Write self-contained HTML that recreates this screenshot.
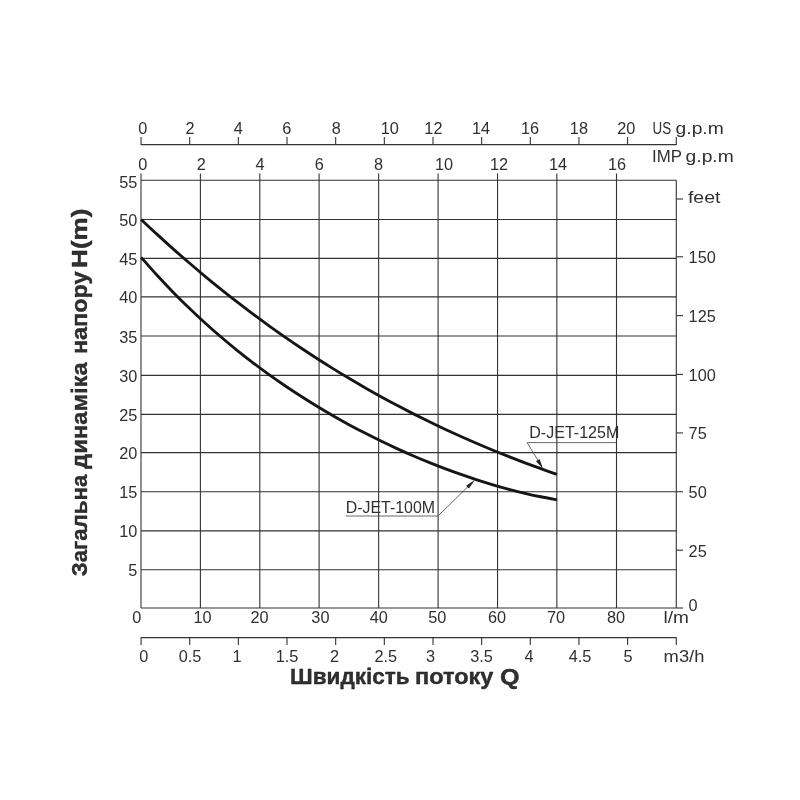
<!DOCTYPE html><html><head><meta charset="utf-8"><title>Pump curve</title><style>html,body{margin:0;padding:0;background:#fff}svg{display:block;will-change:transform}text{font-family:"Liberation Sans",sans-serif;fill:#303030}</style></head><body>
<svg width="800" height="800" viewBox="0 0 800 800">
<rect width="800" height="800" fill="#fff"/>
<g stroke="#333" stroke-width="1.1" fill="none">
<line x1="141.05" y1="180.25" x2="676.30" y2="180.25"/>
<line x1="141.05" y1="219.50" x2="676.30" y2="219.50"/>
<line x1="141.05" y1="258.40" x2="676.30" y2="258.40"/>
<line x1="141.05" y1="296.90" x2="676.30" y2="296.90"/>
<line x1="141.05" y1="336.00" x2="676.30" y2="336.00"/>
<line x1="141.05" y1="375.40" x2="676.30" y2="375.40"/>
<line x1="141.05" y1="414.40" x2="676.30" y2="414.40"/>
<line x1="141.05" y1="452.60" x2="676.30" y2="452.60"/>
<line x1="141.05" y1="491.75" x2="676.30" y2="491.75"/>
<line x1="141.05" y1="530.90" x2="676.30" y2="530.90"/>
<line x1="141.05" y1="569.80" x2="676.30" y2="569.80"/>
<line x1="141.05" y1="608.00" x2="676.30" y2="608.00"/>
<line x1="141.00" y1="173.50" x2="141.00" y2="608.00"/>
<line x1="200.40" y1="173.50" x2="200.40" y2="608.00"/>
<line x1="259.80" y1="173.50" x2="259.80" y2="608.00"/>
<line x1="319.10" y1="173.50" x2="319.10" y2="608.00"/>
<line x1="378.65" y1="173.50" x2="378.65" y2="608.00"/>
<line x1="438.10" y1="173.50" x2="438.10" y2="608.00"/>
<line x1="497.55" y1="173.50" x2="497.55" y2="608.00"/>
<line x1="556.85" y1="173.50" x2="556.85" y2="608.00"/>
<line x1="616.50" y1="173.50" x2="616.50" y2="608.00"/>
<line x1="676.30" y1="180.25" x2="676.30" y2="608.00"/>
<line x1="141.05" y1="144.6" x2="676.30" y2="144.6"/>
<line x1="141.05" y1="137" x2="141.05" y2="145"/>
<line x1="189.71" y1="137" x2="189.71" y2="145"/>
<line x1="238.36" y1="137" x2="238.36" y2="145"/>
<line x1="287.01" y1="137" x2="287.01" y2="145"/>
<line x1="335.67" y1="137" x2="335.67" y2="145"/>
<line x1="384.33" y1="137" x2="384.33" y2="145"/>
<line x1="432.98" y1="137" x2="432.98" y2="145"/>
<line x1="481.64" y1="137" x2="481.64" y2="145"/>
<line x1="530.29" y1="137" x2="530.29" y2="145"/>
<line x1="578.94" y1="137" x2="578.94" y2="145"/>
<line x1="627.60" y1="137" x2="627.60" y2="145"/>
<line x1="676.30" y1="137" x2="676.30" y2="145"/>
<line x1="141.05" y1="637.6" x2="676.30" y2="637.6"/>
<line x1="141.05" y1="637.2" x2="141.05" y2="645"/>
<line x1="189.71" y1="637.2" x2="189.71" y2="645"/>
<line x1="238.36" y1="637.2" x2="238.36" y2="645"/>
<line x1="287.01" y1="637.2" x2="287.01" y2="645"/>
<line x1="335.67" y1="637.2" x2="335.67" y2="645"/>
<line x1="384.33" y1="637.2" x2="384.33" y2="645"/>
<line x1="432.98" y1="637.2" x2="432.98" y2="645"/>
<line x1="481.64" y1="637.2" x2="481.64" y2="645"/>
<line x1="530.29" y1="637.2" x2="530.29" y2="645"/>
<line x1="578.94" y1="637.2" x2="578.94" y2="645"/>
<line x1="627.60" y1="637.2" x2="627.60" y2="645"/>
<line x1="676.30" y1="637.2" x2="676.30" y2="645"/>
<line x1="676.30" y1="199.00" x2="683" y2="199.00"/>
<line x1="676.30" y1="256.80" x2="683" y2="256.80"/>
<line x1="676.30" y1="315.60" x2="683" y2="315.60"/>
<line x1="676.30" y1="374.40" x2="683" y2="374.40"/>
<line x1="676.30" y1="432.90" x2="683" y2="432.90"/>
<line x1="676.30" y1="491.75" x2="683" y2="491.75"/>
<line x1="676.30" y1="550.20" x2="683" y2="550.20"/>
<line x1="676.30" y1="608.00" x2="683" y2="608.00"/>
<g stroke-width="0.8" stroke="#444"><polyline points="345.7,516 438.0,516 470,484.6"/>
<polyline points="616.9,442.6 527.1,442.6 539.2,462.4"/></g>
</g>
<polygon points="475.0,479.8 468.9,488.6 466.1,485.8" fill="#222"/>
<polygon points="543.0,468.7 536.0,461.2 539.6,459.0" fill="#222"/>
<path d="M141.10,219.47 C143.77,221.95 151.76,229.50 157.09,234.39 C162.42,239.28 167.75,244.09 173.08,248.82 C178.42,253.56 183.75,258.21 189.08,262.78 C194.41,267.36 199.74,271.86 205.07,276.28 C210.40,280.70 215.73,285.05 221.06,289.32 C226.39,293.59 231.72,297.79 237.05,301.91 C242.38,306.04 247.72,310.09 253.05,314.07 C258.38,318.05 263.71,321.96 269.04,325.80 C274.37,329.64 279.70,333.41 285.03,337.11 C290.36,340.81 295.69,344.44 301.02,348.01 C306.35,351.57 311.68,355.07 317.02,358.51 C322.35,361.94 327.68,365.31 333.01,368.62 C338.34,371.92 343.67,375.16 349.00,378.34 C354.33,381.52 359.66,384.64 364.99,387.70 C370.32,390.76 375.65,393.75 380.98,396.69 C386.32,399.63 391.65,402.51 396.98,405.33 C402.31,408.15 407.64,410.92 412.97,413.63 C418.30,416.33 423.63,418.99 428.96,421.59 C434.29,424.18 439.62,426.73 444.95,429.22 C450.28,431.71 455.62,434.15 460.95,436.54 C466.28,438.93 471.61,441.26 476.94,443.55 C482.27,445.84 487.60,448.07 492.93,450.26 C498.26,452.45 503.59,454.59 508.92,456.69 C514.25,458.78 519.58,460.83 524.92,462.83 C530.25,464.84 535.58,466.80 540.91,468.71 C546.24,470.63 554.23,473.39 556.90,474.33" fill="none" stroke="#151515" stroke-width="2.85" stroke-linecap="butt"/>
<path d="M141.10,257.35 C143.77,260.34 151.76,269.50 157.09,275.30 C162.42,281.11 167.75,286.72 173.08,292.17 C178.42,297.63 183.75,302.91 189.08,308.04 C194.41,313.17 199.74,318.14 205.07,322.97 C210.40,327.80 215.73,332.48 221.06,337.04 C226.39,341.59 231.72,346.00 237.05,350.29 C242.38,354.58 247.72,358.74 253.05,362.79 C258.38,366.85 263.71,370.77 269.04,374.60 C274.37,378.42 279.70,382.13 285.03,385.75 C290.36,389.37 295.69,392.87 301.02,396.29 C306.35,399.71 311.68,403.03 317.02,406.26 C322.35,409.50 327.68,412.64 333.01,415.70 C338.34,418.76 343.67,421.73 349.00,424.63 C354.33,427.52 359.66,430.33 364.99,433.07 C370.32,435.81 375.65,438.47 380.98,441.06 C386.32,443.64 391.65,446.15 396.98,448.59 C402.31,451.03 407.64,453.40 412.97,455.70 C418.30,457.99 423.63,460.22 428.96,462.37 C434.29,464.53 439.62,466.61 444.95,468.62 C450.28,470.63 455.62,472.58 460.95,474.45 C466.28,476.31 471.61,478.11 476.94,479.84 C482.27,481.56 487.60,483.21 492.93,484.78 C498.26,486.35 503.59,487.85 508.92,489.27 C514.25,490.68 519.58,492.02 524.92,493.27 C530.25,494.52 535.58,495.70 540.91,496.77 C546.24,497.85 554.23,499.25 556.90,499.74" fill="none" stroke="#151515" stroke-width="2.85" stroke-linecap="butt"/>
<text x="137.30" y="187.79" font-size="16.30" text-anchor="end">55</text>
<text x="137.30" y="226.04" font-size="16.30" text-anchor="end">50</text>
<text x="137.30" y="264.94" font-size="16.30" text-anchor="end">45</text>
<text x="137.30" y="303.44" font-size="16.30" text-anchor="end">40</text>
<text x="137.30" y="342.54" font-size="16.30" text-anchor="end">35</text>
<text x="137.30" y="381.94" font-size="16.30" text-anchor="end">30</text>
<text x="137.30" y="420.94" font-size="16.30" text-anchor="end">25</text>
<text x="137.30" y="459.14" font-size="16.30" text-anchor="end">20</text>
<text x="137.30" y="498.29" font-size="16.30" text-anchor="end">15</text>
<text x="137.30" y="537.44" font-size="16.30" text-anchor="end">10</text>
<text x="137.30" y="576.34" font-size="16.30" text-anchor="end">5</text>
<text x="687.90" y="202.70" font-size="16.30" text-anchor="start" textLength="32.6" lengthAdjust="spacingAndGlyphs">feet</text>
<text x="688.60" y="263.24" font-size="16.30" text-anchor="start">150</text>
<text x="688.60" y="322.04" font-size="16.30" text-anchor="start">125</text>
<text x="688.60" y="380.84" font-size="16.30" text-anchor="start">100</text>
<text x="688.60" y="439.34" font-size="16.30" text-anchor="start">75</text>
<text x="688.60" y="498.19" font-size="16.30" text-anchor="start">50</text>
<text x="688.60" y="556.64" font-size="16.30" text-anchor="start">25</text>
<text x="688.60" y="610.64" font-size="16.30" text-anchor="start">0</text>
<text x="142.80" y="133.90" font-size="16.30" text-anchor="middle">0</text>
<text x="190.00" y="133.90" font-size="16.30" text-anchor="middle">2</text>
<text x="238.20" y="133.90" font-size="16.30" text-anchor="middle">4</text>
<text x="286.80" y="133.90" font-size="16.30" text-anchor="middle">6</text>
<text x="336.20" y="133.90" font-size="16.30" text-anchor="middle">8</text>
<text x="389.70" y="133.90" font-size="16.30" text-anchor="middle">10</text>
<text x="433.40" y="133.90" font-size="16.30" text-anchor="middle">12</text>
<text x="481.00" y="133.90" font-size="16.30" text-anchor="middle">14</text>
<text x="530.00" y="133.90" font-size="16.30" text-anchor="middle">16</text>
<text x="578.90" y="133.90" font-size="16.30" text-anchor="middle">18</text>
<text x="626.20" y="133.90" font-size="16.30" text-anchor="middle">20</text>
<text x="0.00" y="133.90" font-size="16.30" text-anchor="start"><tspan x="652.6" textLength="18.6" lengthAdjust="spacingAndGlyphs">US</tspan> <tspan x="675.6" textLength="48.2" lengthAdjust="spacingAndGlyphs">g.p.m</tspan></text>
<text x="142.80" y="169.90" font-size="16.30" text-anchor="middle">0</text>
<text x="201.20" y="169.90" font-size="16.30" text-anchor="middle">2</text>
<text x="260.00" y="169.90" font-size="16.30" text-anchor="middle">4</text>
<text x="319.30" y="169.90" font-size="16.30" text-anchor="middle">6</text>
<text x="378.50" y="169.90" font-size="16.30" text-anchor="middle">8</text>
<text x="444.00" y="169.90" font-size="16.30" text-anchor="middle">10</text>
<text x="499.00" y="169.90" font-size="16.30" text-anchor="middle">12</text>
<text x="558.00" y="169.90" font-size="16.30" text-anchor="middle">14</text>
<text x="617.00" y="169.90" font-size="16.30" text-anchor="middle">16</text>
<text x="0.00" y="162.10" font-size="16.30" text-anchor="start"><tspan x="652.0" textLength="29.6" lengthAdjust="spacingAndGlyphs">IMP</tspan> <tspan x="685.6" textLength="48.2" lengthAdjust="spacingAndGlyphs">g.p.m</tspan></text>
<text x="136.90" y="622.70" font-size="16.30" text-anchor="middle">0</text>
<text x="202.50" y="622.70" font-size="16.30" text-anchor="middle">10</text>
<text x="259.50" y="622.70" font-size="16.30" text-anchor="middle">20</text>
<text x="320.40" y="622.70" font-size="16.30" text-anchor="middle">30</text>
<text x="378.80" y="622.70" font-size="16.30" text-anchor="middle">40</text>
<text x="437.20" y="622.70" font-size="16.30" text-anchor="middle">50</text>
<text x="497.00" y="622.70" font-size="16.30" text-anchor="middle">60</text>
<text x="556.00" y="622.70" font-size="16.30" text-anchor="middle">70</text>
<text x="616.00" y="622.70" font-size="16.30" text-anchor="middle">80</text>
<text x="663.60" y="622.70" font-size="16.30" text-anchor="start" textLength="25.4" lengthAdjust="spacingAndGlyphs">l/m</text>
<text x="143.80" y="661.70" font-size="16.30" text-anchor="middle">0</text>
<text x="190.00" y="661.70" font-size="16.30" text-anchor="middle">0.5</text>
<text x="237.00" y="661.70" font-size="16.30" text-anchor="middle">1</text>
<text x="287.00" y="661.70" font-size="16.30" text-anchor="middle">1.5</text>
<text x="334.50" y="661.70" font-size="16.30" text-anchor="middle">2</text>
<text x="385.80" y="661.70" font-size="16.30" text-anchor="middle">2.5</text>
<text x="430.50" y="661.70" font-size="16.30" text-anchor="middle">3</text>
<text x="481.60" y="661.70" font-size="16.30" text-anchor="middle">3.5</text>
<text x="529.00" y="661.70" font-size="16.30" text-anchor="middle">4</text>
<text x="580.00" y="661.70" font-size="16.30" text-anchor="middle">4.5</text>
<text x="628.00" y="661.70" font-size="16.30" text-anchor="middle">5</text>
<text x="663.60" y="661.70" font-size="16.30" text-anchor="start" textLength="40.8" lengthAdjust="spacingAndGlyphs">m3/h</text>
<text x="345.80" y="513.00" font-size="16.30" text-anchor="start" textLength="89.2" lengthAdjust="spacingAndGlyphs">D-JET-100M</text>
<text x="529.20" y="438.40" font-size="16.30" text-anchor="start" textLength="90.2" lengthAdjust="spacingAndGlyphs">D-JET-125M</text>
<text y="684.3" font-size="21.4" font-weight="bold" fill="#161616" stroke="#161616" stroke-width="0.35"><tspan x="290.10" textLength="119.60" lengthAdjust="spacingAndGlyphs">Швидкість</tspan> <tspan x="415.00" textLength="78.40" lengthAdjust="spacingAndGlyphs">потоку</tspan> <tspan x="500.00" textLength="19.60" lengthAdjust="spacingAndGlyphs">Q</tspan></text>
<text transform="translate(86.6,575.5) rotate(-90)" y="0" font-size="21.4" font-weight="bold" fill="#161616" stroke="#161616" stroke-width="0.35"><tspan x="-0.80" textLength="101.60" lengthAdjust="spacingAndGlyphs">Загальна</tspan> <tspan x="106.60" textLength="106.60" lengthAdjust="spacingAndGlyphs">динаміка</tspan> <tspan x="221.40" textLength="82.60" lengthAdjust="spacingAndGlyphs">напору</tspan> <tspan x="307.60" textLength="59.40" lengthAdjust="spacingAndGlyphs">H(m)</tspan></text>
</svg></body></html>
